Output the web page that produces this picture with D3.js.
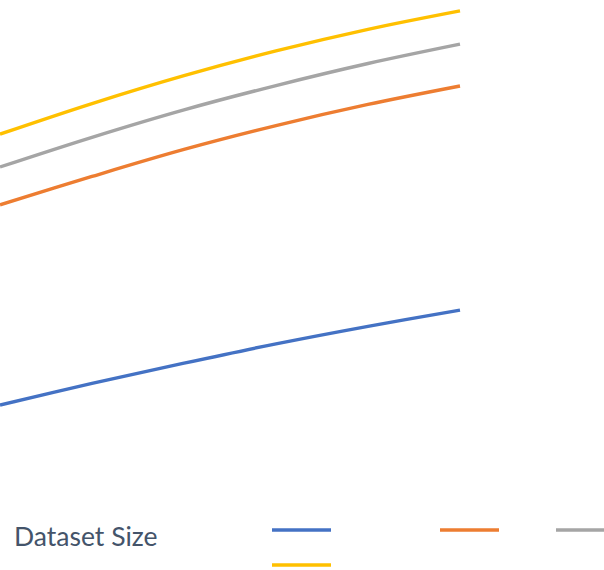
<!DOCTYPE html>
<html>
<head>
<meta charset="utf-8">
<script src="https://cdn.jsdelivr.net/npm/d3@7/dist/d3.min.js"></script>
<style>
  html, body { margin: 0; padding: 0; background: #fff; }
  svg { display: block; }
</style>
</head>
<body>
<svg id="chart" width="604" height="570"></svg>
<script>
// ---- data ----
const datasetSizes = [1000, 2000, 3000, 4000, 5000, 6000];
const seriesNames = ["Series 1", "Series 2", "Series 3", "Series 4"];
const seriesColors = ["#4472C4", "#ED7D31", "#A5A5A5", "#FFC000"];
const series1 = [11.1, 15.9, 20.4, 24.7, 28.6, 32.2];
const series2 = [55.6, 61.9, 67.9, 73.2, 77.9, 82.0];
const series3 = [64.0, 70.6, 76.7, 82.1, 87.0, 91.3];
const series4 = [71.3, 78.1, 84.3, 89.8, 94.6, 98.7];
const legendTitle = "Dataset Size";

const allSeries = [series1, series2, series3, series4].map((vals, i) => ({
  name: seriesNames[i],
  color: seriesColors[i],
  values: vals.map((v, j) => ({ x: datasetSizes[j], y: v }))
}));

const svg = d3.select("#chart");

const x = d3.scaleLinear().domain([1000, 6000]).range([0, 460]);
const y = d3.scaleLinear().domain([0, 100]).range([455, 5]);

const line = d3.line()
  .x(d => x(d.x))
  .y(d => y(d.y))
  .curve(d3.curveCatmullRom.alpha(0.5));

svg.append("g")
  .selectAll("path")
  .data(allSeries)
  .join("path")
  .attr("d", d => line(d.values))
  .attr("fill", "none")
  .attr("stroke", d => d.color)
  .attr("stroke-width", 3.4)
  .attr("stroke-linecap", "butt");

// ---- legend ----
svg.append("defs").append("clipPath").attr("id", "titleClip")
  .append("rect").attr("x", 0).attr("y", 500).attr("width", 200).attr("height", 46);

svg.append("text")
  .attr("x", 14)
  .attr("y", 546)
  .attr("clip-path", "url(#titleClip)")
  .attr("font-family", "Lato, 'Open Sans', sans-serif")
  .attr("font-size", 26.5)
  .attr("fill", "#44546A")
  .text(legendTitle);

const legendPos = [[272, 530], [440, 530], [556, 530], [272, 565]];
const lg = svg.append("g")
  .selectAll("g")
  .data(allSeries)
  .join("g")
  .attr("transform", (d, i) => `translate(${legendPos[i][0]},${legendPos[i][1]})`);

lg.append("line")
  .attr("x1", 0).attr("x2", 59)
  .attr("y1", 0).attr("y2", 0)
  .attr("stroke", d => d.color)
  .attr("stroke-width", 3.4);
</script>
</body>
</html>
